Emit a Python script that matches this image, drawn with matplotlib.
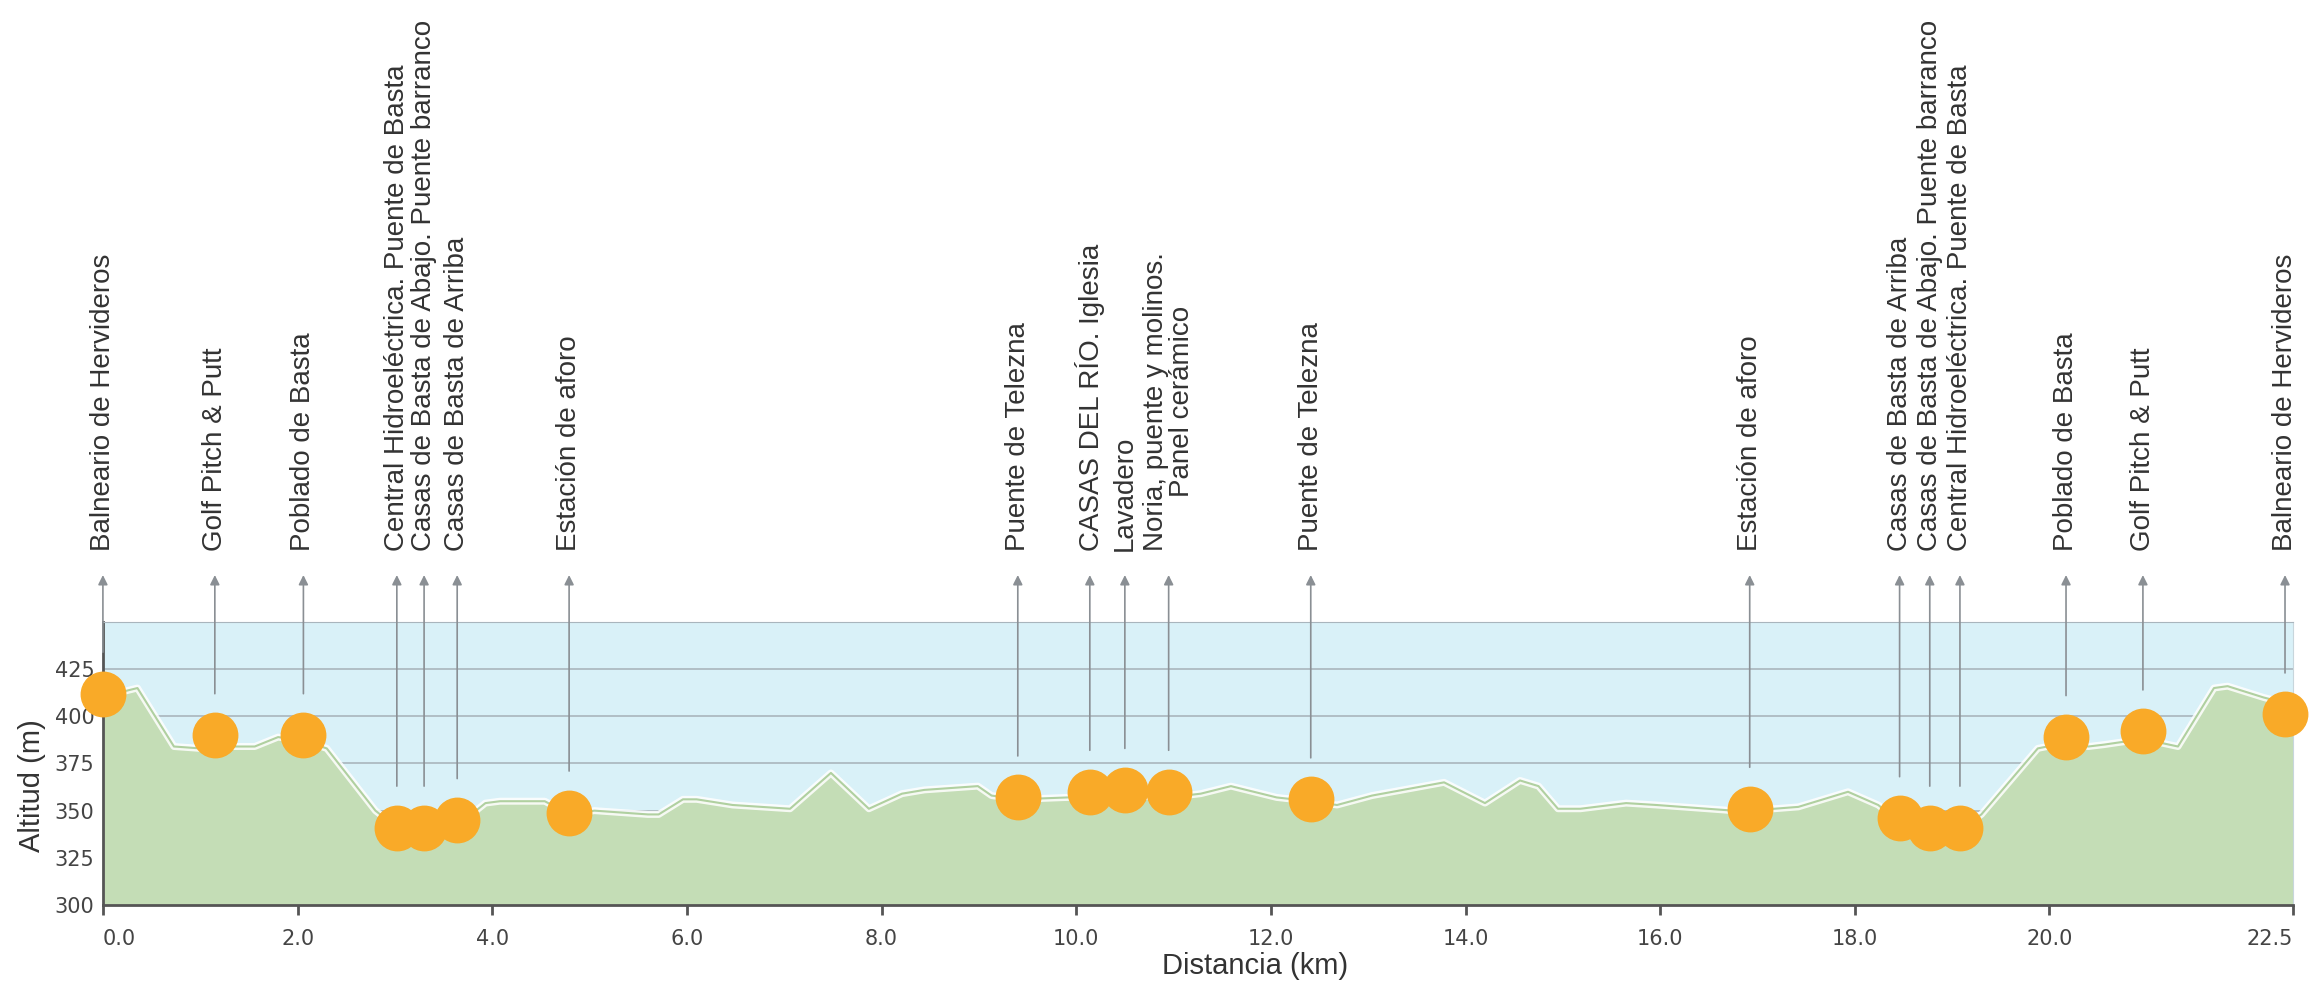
import numpy as np
import matplotlib
matplotlib.use("Agg")
import matplotlib.pyplot as plt

# elevation profile (km, m)
dist = [0, 0.12, 0.355, 0.73, 1.0, 1.15, 1.56, 1.80, 2.06, 2.30, 2.80, 3.02, 3.30, 3.64, 3.93,
        4.08, 4.54, 4.79, 5.05, 5.6, 5.71, 5.96, 6.1, 6.47, 7.06, 7.48, 7.87, 8.21, 8.44,
        8.99, 9.13, 9.40, 9.91, 10.14, 10.5, 10.95, 11.28, 11.59, 12.06, 12.41, 12.68,
        13.04, 13.78, 14.2, 14.56, 14.75, 14.95, 15.18, 15.65, 15.96, 16.75, 16.92, 17.42,
        17.93, 18.24, 18.46, 18.77, 19.08, 19.3, 19.88, 20.17, 20.4, 20.56, 20.96, 21.32,
        21.69, 21.83, 22.2, 22.5]
elev = [408, 412, 415, 384, 383, 384, 384, 389, 387, 383, 350, 341, 340, 342, 354,
        355, 355, 348, 350, 348, 348, 356, 356, 353, 351, 370, 351, 359, 361,
        363, 358, 356, 357, 358, 358, 357, 359, 363, 357, 355, 353,
        358, 365, 354, 366, 363, 351, 351, 354, 353, 350, 350, 352,
        360, 353, 344, 340, 340, 348, 383, 386, 384, 385, 388, 384,
        415, 416, 410, 406]

# points of interest
poi_km = [0.0, 1.15, 2.06, 3.02, 3.30, 3.64, 4.79, 9.40, 10.14, 10.5, 10.95, 12.41,
          16.92, 18.46, 18.77, 19.08, 20.17, 20.96, 22.42]
poi_m = [412, 390, 390, 341, 341, 345, 349, 357, 360, 361, 360, 356,
         351, 346, 341, 341, 389, 392, 401]
poi_names = ["Balneario de Hervideros", "Golf Pitch & Putt", "Poblado de Basta",
             "Central Hidroeléctrica. Puente de Basta",
             "Casas de Basta de Abajo. Puente barranco",
             "Casas de Basta de Arriba", "Estación de aforo", "Puente de Telezna",
             "CASAS DEL RÍO. Iglesia", "Lavadero",
             "Noria, puente y molinos.\nPanel cerámico", "Puente de Telezna",
             "Estación de aforo", "Casas de Basta de Arriba",
             "Casas de Basta de Abajo. Puente barranco",
             "Central Hidroeléctrica. Puente de Basta", "Poblado de Basta",
             "Golf Pitch & Putt", "Balneario de Hervideros"]

xticks = [0, 2, 4, 6, 8, 10, 12, 14, 16, 18, 20, 22.5]
yticks = [300, 325, 350, 375, 400, 425]

fig = plt.figure(figsize=(23.23, 9.9), dpi=100)
ax = fig.add_axes([0.0443, 0.0859, 0.9427, 0.2858])
ax.set_facecolor("#d9f1f8")

ax.set_xlim(0, 22.5)
ax.set_ylim(300, 450)

for g in [325, 350, 375, 400, 425, 450]:
    ax.axhline(g, color="#a9b5bd", lw=1.2, zorder=1)

ax.fill_between(dist, elev, 300, color="#c4ddb6", zorder=2, lw=0)
ax.plot(dist, elev, color="white", lw=5, alpha=0.85, zorder=2.2)
ax.plot(dist, elev, color="#b0d0a0", lw=1.5, zorder=2.3)

# vertical annotation lines with arrows and rotated labels
trans = ax.get_xaxis_transform()
for x, m, name in zip(poi_km, poi_m, poi_names):
    ax.annotate("", xy=(x, m + 22), xycoords="data",
                xytext=(x, 1.166), textcoords=trans,
                arrowprops=dict(arrowstyle="<|-", color="#8a8f94", lw=1.2,
                                mutation_scale=14, shrinkA=0, shrinkB=0),
                annotation_clip=False, zorder=3)
    ax.text(x, 1.25, name, transform=trans, rotation=90, ha="center", va="bottom",
            fontsize=20, color="#333333", family="Liberation Sans", linespacing=1.0)

ax.plot(poi_km, poi_m, "o", color="#f9aa28", markersize=32, clip_on=False, zorder=6)

ax.set_xticks(xticks)
ax.set_xticklabels(["%.1f" % t for t in xticks], fontsize=15, color="#444444")
labs = ax.get_xticklabels()
labs[0].set_ha("left")
labs[-1].set_ha("right")
ax.set_yticks(yticks)
ax.set_yticklabels([str(t) for t in yticks], fontsize=15, color="#444444")
ax.tick_params(axis="x", length=7, width=2, color="#555555", pad=10)
ax.tick_params(axis="y", length=0, pad=6)

for s in ["left", "bottom"]:
    ax.spines[s].set_color("#555555")
    ax.spines[s].set_linewidth(2)
ax.spines["top"].set_color("#a9b5bd")
ax.spines["right"].set_color("#c8d6dc")

ax.set_xlabel("Distancia (km)", fontsize=21, color="#333333", family="Liberation Sans")
ax.xaxis.set_label_coords(0.526, -0.165)
ax.set_ylabel("Altitud (m)", fontsize=21, color="#333333", family="Liberation Sans")
ax.yaxis.set_label_coords(-0.026, 0.42)

plt.savefig("out.png", dpi=100)
